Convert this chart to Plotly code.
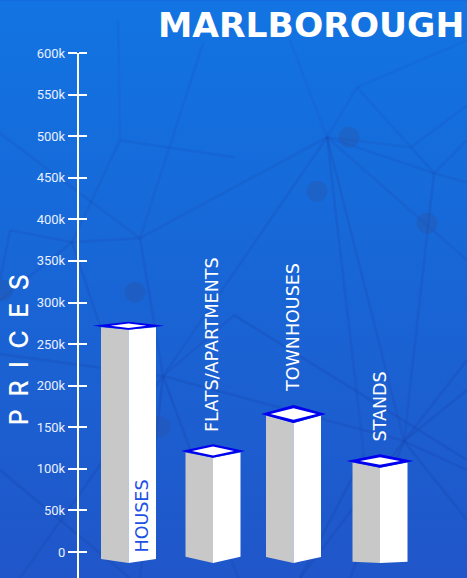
import base64
import plotly.graph_objects as go

# ---- data ----
categories = ["HOUSES", "FLATS/APARTMENTS", "TOWNHOUSES", "STANDS"]
prices = [272000, 121500, 166000, 109500]
tick_values = [0, 50000, 100000, 150000, 200000, 250000, 300000, 350000, 400000, 450000, 500000, 550000, 600000]
tick_labels = ["0", "50k", "100k", "150k", "200k", "250k", "300k", "350k", "400k", "450k", "500k", "550k", "600k"]
title_text = "MARLBOROUGH"
axis_text = "P\u2002R\u2002I\u2002C\u2002E\u2002S"

# ---- layout geometry (pixels) ----
W, H = 467, 578
TOP, ZERO = 52.7, 552.0
PER_PX = 600000 / (ZERO - TOP)
bar_centers = [128.5, 213, 293.5, 380]
half_width = 27.5
outer_hw = [36, 32, 32.5, 33.5]
outer_hd = [4.0, 6.7, 9.0, 6.7]
inner_hw = [18, 21, 23, 20]
inner_hd = [2.3, 4.5, 5.7, 3.7]
bottom_depth = [4.0, 6.3, 6.0, 1.3]
base_corner_px = [559.0, 556.7, 557.0, 561.7]
label_gap = [-3, 17, 19.5, 17]

# ---- background picture ----
nodes_lines = [
    ((140,238),(327,137)), ((140,238),(203,43)), ((140,238),(72,242)), ((72,242),(10,230)),
    ((140,238),(0,133)), ((140,238),(163,376)), ((163,376),(404,441)), ((163,376),(0,354)),
    ((163,376),(234,315)), ((163,376),(238,578)), ((163,376),(140,578)), ((10,230),(0,280)),
    ((72,242),(125,400)), ((72,242),(120,140)), ((120,140),(234,157)), ((120,140),(118,20)),
    ((327,137),(357,87)), ((357,87),(467,40)), ((327,137),(290,40)), ((327,137),(404,441)),
    ((327,137),(364,455)), ((327,137),(163,376)), ((327,137),(411,147)), ((411,147),(434,173)),
    ((434,173),(467,182)), ((327,137),(434,173)), ((411,147),(467,105)), ((357,87),(411,147)),
    ((434,173),(467,140)), ((434,173),(404,441)), ((327,137),(467,260)), ((404,441),(467,390)),
    ((404,441),(467,470)), ((404,441),(467,360)), ((404,441),(300,578)), ((404,441),(467,520)),
    ((0,470),(130,578)), ((20,578),(163,376)), ((364,455),(300,578)), ((404,441),(350,578)),
    ((0,300),(72,242)), ((234,315),(467,460)),
]
dots = [(135,292),(160,427),(349,137),(317,191),(427,223),(3,290)]
svg = [f'<svg xmlns="http://www.w3.org/2000/svg" width="{W}" height="{H}" viewBox="0 0 {W} {H}">',
       '<defs><linearGradient id="g" x1="0" y1="0" x2="0" y2="1">'
       '<stop offset="0" stop-color="#1274e2"/><stop offset="1" stop-color="#2056c9"/></linearGradient></defs>',
       f'<rect width="{W}" height="{H}" fill="url(#g)"/>']
for (a, b), (c, d) in nodes_lines:
    op = 0.08 + 0.42 * ((b + d) / 2 / H)
    svg.append(f'<line x1="{a}" y1="{b}" x2="{c}" y2="{d}" stroke="#1a4cb8" stroke-opacity="{op:.2f}" stroke-width="2.6"/>')
for a, b in dots:
    svg.append(f'<circle cx="{a}" cy="{b}" r="10.5" fill="#2a4f9c" fill-opacity="0.3"/>')
svg.append('</svg>')
bg = "data:image/svg+xml;base64," + base64.b64encode("".join(svg).encode()).decode()

FACE_L, FACE_R, RIM = "#c8c8c8", "#ffffff", "#0000f0"
SANS = "DejaVu Sans, sans-serif"

fig = go.Figure()
annotations = []
for i, (name, v, c) in enumerate(zip(categories, prices, bar_centers)):
    td = outer_hd[i] * PER_PX
    corner = v - 1.5 * PER_PX
    base_corner = (ZERO - base_corner_px[i]) * PER_PX
    base_front = base_corner - bottom_depth[i] * PER_PX
    L, R = c - half_width, c + half_width
    fig.add_trace(go.Scatter(x=[L, c, c, L, L], y=[corner, v - td, base_front, base_corner, corner],
                             mode="lines", fill="toself", fillcolor=FACE_L, line=dict(width=0),
                             hoverinfo="skip", showlegend=False))
    fig.add_trace(go.Scatter(x=[c, R, R, c, c], y=[v - td, corner, base_corner, base_front, v - td],
                             mode="lines", fill="toself", fillcolor=FACE_R, line=dict(width=0),
                             hoverinfo="skip", showlegend=False))
    ow, ih, iw = outer_hw[i], inner_hd[i] * PER_PX, inner_hw[i]
    fig.add_trace(go.Scatter(x=[c - ow, c, c + ow, c, c - ow], y=[v, v + td, v, v - td, v],
                             mode="lines", fill="toself", fillcolor=RIM, line=dict(width=0),
                             hoverinfo="skip", showlegend=False))
    fig.add_trace(go.Scatter(x=[c - iw, c, c + iw, c, c - iw], y=[v, v + ih, v, v - ih, v],
                             mode="lines", fill="toself", fillcolor="#ffffff", line=dict(width=0),
                             hoverinfo="skip", showlegend=False))
    inside = i == 0
    annotations.append(dict(
        x=c + 13.5 if inside else c - 0.5, xref="x", yref="y",
        y=(label_gap[i] * PER_PX) if inside else v + label_gap[i] * PER_PX,
        text=name, textangle=-90, showarrow=False, yanchor="bottom", xanchor="center",
        font=dict(family=SANS, size=17.5, color="#1c50e6" if inside else "#ffffff")))

annotations.append(dict(x=466, xref="x", yref="paper", y=1 + 28.5 / (H - TOP), text=title_text, showarrow=False,
                        xanchor="right", yanchor="middle",
                        font=dict(family=SANS, size=34.5, weight=700, color="#ffffff")))
annotations.append(dict(x=19, xref="x", y=(ZERO - 350) * PER_PX, yref="y", text=axis_text, textangle=-90,
                        showarrow=False, xanchor="center", yanchor="middle",
                        font=dict(family="Inter, sans-serif", size=25, weight=500, color="#ffffff")))

y_range = [(ZERO - H) * PER_PX, 600000]
fig.update_layout(
    width=W, height=H, margin=dict(l=0, r=0, t=TOP, b=0, autoexpand=False),
    paper_bgcolor="#1a64d6", plot_bgcolor="rgba(0,0,0,0)", showlegend=False,
    xaxis=dict(range=[0, W], visible=False, fixedrange=True),
    yaxis=dict(range=y_range, anchor="free", position=78 / W, side="left", showgrid=False, zeroline=False,
               showline=True, linecolor="#ffffff", linewidth=2.4, ticks="outside", ticklen=9, tickwidth=2,
               tickcolor="#ffffff", tickvals=tick_values, ticktext=tick_labels, fixedrange=True,
               tickfont=dict(family="Roboto, sans-serif", size=13, color="#e8f0ff")),
    yaxis2=dict(range=y_range, overlaying="y", anchor="free", position=78 / W, side="right", showgrid=False,
                zeroline=False, showline=False, ticks="outside", ticklen=8, tickwidth=2, tickcolor="#ffffff",
                tickvals=tick_values, showticklabels=False, fixedrange=True),
    images=[dict(source=bg, xref="paper", yref="paper", x=0, y=H / (H - TOP), sizex=1, sizey=H / (H - TOP),
                 sizing="stretch", layer="below", xanchor="left", yanchor="top")],
    annotations=annotations,
)
fig.add_trace(go.Scatter(x=[None], y=[None], yaxis="y2", showlegend=False, hoverinfo="skip"))
fig.write_html("out.html", config=dict(displayModeBar=False),
               post_script="document.body.style.margin='0';document.body.style.overflow='hidden';")
